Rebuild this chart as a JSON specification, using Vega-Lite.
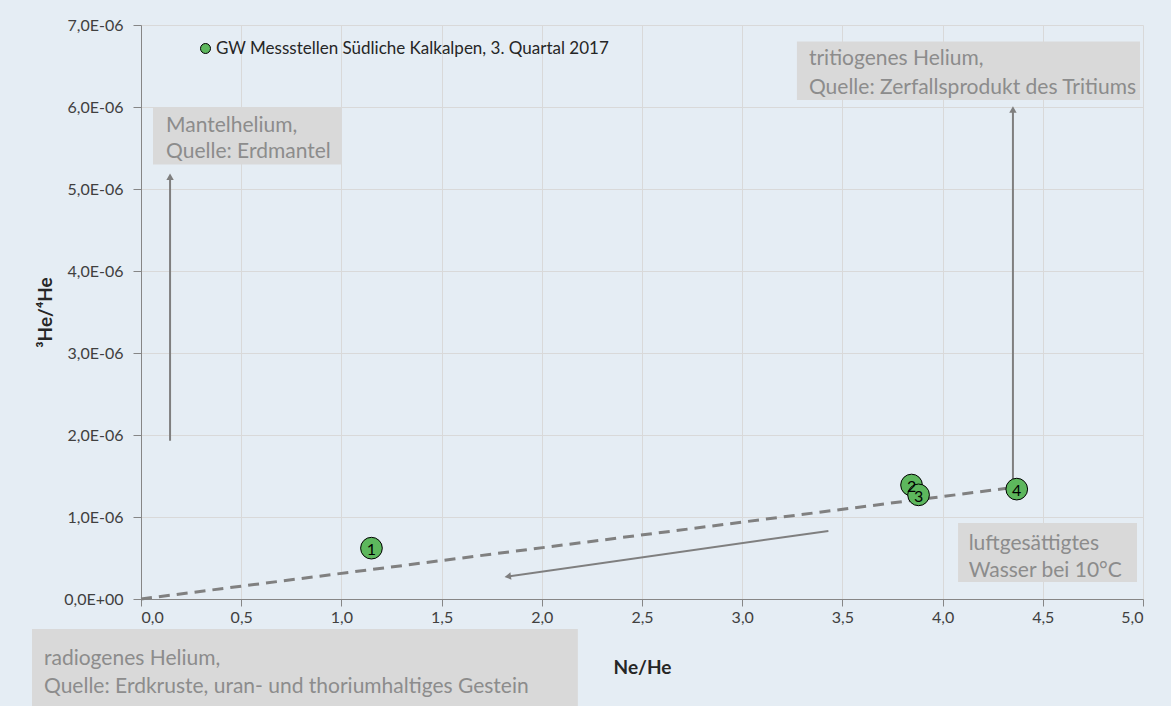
{
  "$schema": "https://vega.github.io/schema/vega-lite/v6.json",
  "autosize": "none",
  "width": 1002,
  "height": 574,
  "padding": {"left": 141, "top": 25, "right": 28, "bottom": 107},
  "background": "#e5edf4",
  "config": {
    "view": {"stroke": null},
    "font": "Lato",
    "axis": {"labelFont": "Lato", "titleFont": "Lato"},
    "legend": {"labelFont": "Lato"}
  },
  "datasets": {
    "proben": [
      {"x": 1.15, "y": 6.2e-7, "nr": "1", "serie": "GW Messstellen Südliche Kalkalpen, 3. Quartal 2017"},
      {"x": 3.845, "y": 1.39e-6, "nr": "2", "serie": "GW Messstellen Südliche Kalkalpen, 3. Quartal 2017"},
      {"x": 3.88, "y": 1.27e-6, "nr": "3", "serie": "GW Messstellen Südliche Kalkalpen, 3. Quartal 2017"},
      {"x": 4.37, "y": 1.34e-6, "nr": "4", "serie": "GW Messstellen Südliche Kalkalpen, 3. Quartal 2017"}
    ],
    "mischlinie": [
      {"x": 0.0, "y": 0.0},
      {"x": 4.32, "y": 1.35e-6}
    ],
    "pfeile": [
      {"pfeil": "Mantel", "x": 0.145, "y": 1.93e-6, "x2": 0.145, "y2": 5.15e-6},
      {"pfeil": "Tritium", "x": 4.351, "y": 1.34e-6, "x2": 4.351, "y2": 5.97e-6},
      {"pfeil": "Radiogen", "x": 3.43, "y": 8.3e-7, "x2": 1.83, "y2": 2.75e-7}
    ],
    "spitzen_vertikal": [
      {"x": 0.145, "y": 5.15e-6},
      {"x": 4.351, "y": 5.97e-6}
    ],
    "spitzen_schraeg": [
      {"x": 1.83, "y": 2.75e-7}
    ],
    "kaesten": [
      {"name": "Mantelhelium", "x": 0.06, "x2": 1.003, "y": 6.0e-6, "y2": 5.3e-6},
      {"name": "tritiogen", "x": 3.273, "x2": 4.985, "y": 6.8e-6, "y2": 6.085e-6},
      {"name": "luftgesättigt", "x": 4.077, "x2": 4.97, "y": 9.27e-7, "y2": 2.07e-7},
      {"name": "radiogen", "x": -0.544, "x2": 2.18, "y": -3.66e-7, "y2": -1.4e-6}
    ],
    "kastentexte": [
      {"x": 0.125, "y": 5.77e-6, "text": "Mantelhelium,"},
      {"x": 0.125, "y": 5.45e-6, "text": "Quelle: Erdmantel"},
      {"x": 3.333, "y": 6.58e-6, "text": "tritiogenes Helium,"},
      {"x": 3.333, "y": 6.23e-6, "text": "Quelle: Zerfallsprodukt des Tritiums"},
      {"x": 4.13, "y": 6.7e-7, "text": "luftgesättigtes"},
      {"x": 4.13, "y": 3.4e-7, "text": "Wasser bei 10°C"},
      {"x": -0.484, "y": -7.3e-7, "text": "radiogenes Helium,"},
      {"x": -0.484, "y": -1.07e-6, "text": "Quelle: Erdkruste, uran- und thoriumhaltiges Gestein"}
    ]
  },
  "encoding": {
    "x": {
      "field": "x",
      "type": "quantitative",
      "scale": {"domain": [0, 5], "nice": false, "zero": false},
      "axis": {
        "title": "Ne/He",
        "values": [0, 0.5, 1, 1.5, 2, 2.5, 3, 3.5, 4, 4.5, 5],
        "labelExpr": "replace(format(datum.value, '.1f'), '.', ',')",
        "grid": true,
        "gridColor": "#d9d9d9",
        "domainColor": "#868686",
        "tickColor": "#868686",
        "tickSize": 7,
        "labelPadding": 3,
        "labelFontSize": 16,
        "labelColor": "#404040",
        "titleFontSize": 19,
        "titleFontWeight": "bold",
        "titleColor": "#262626",
        "titlePadding": 33
      }
    },
    "y": {
      "field": "y",
      "type": "quantitative",
      "scale": {"domain": [0, 7e-6], "nice": false, "zero": false},
      "axis": {
        "title": "³He/⁴He",
        "values": [0, 1e-6, 2e-6, 3e-6, 4e-6, 5e-6, 6e-6, 7e-6],
        "labelExpr": "datum.value == 0 ? '0,0E+00' : replace(format(datum.value * 1e6, '.1f'), '.', ',') + 'E-06'",
        "grid": true,
        "gridColor": "#d9d9d9",
        "domainColor": "#868686",
        "tickColor": "#868686",
        "tickSize": 8,
        "labelPadding": 10,
        "labelFontSize": 16,
        "labelColor": "#404040",
        "titleFontSize": 19,
        "titleFontWeight": "bold",
        "titleColor": "#262626",
        "titlePadding": 8
      }
    }
  },
  "layer": [
    {
      "data": {"name": "kaesten"},
      "mark": {"type": "rect", "color": "#d9d9d9", "clip": false},
      "encoding": {"x2": {"field": "x2"}, "y2": {"field": "y2"}}
    },
    {
      "data": {"name": "kastentexte"},
      "mark": {"type": "text", "align": "left", "baseline": "middle", "fontSize": 21, "color": "#8c8c8c", "font": "Lato"},
      "encoding": {"text": {"field": "text"}}
    },
    {
      "data": {"name": "mischlinie"},
      "mark": {"type": "line", "color": "#808080", "strokeWidth": 3, "strokeDash": [11, 7]},
      "encoding": {}
    },
    {
      "data": {"name": "pfeile"},
      "mark": {"type": "rule", "color": "#7f7f7f", "strokeWidth": 2},
      "encoding": {"x2": {"field": "x2"}, "y2": {"field": "y2"}}
    },
    {
      "data": {"name": "spitzen_vertikal"},
      "mark": {"type": "point", "shape": "triangle-up", "filled": true, "color": "#7f7f7f", "opacity": 1, "size": 55},
      "encoding": {}
    },
    {
      "data": {"name": "spitzen_schraeg"},
      "mark": {"type": "point", "shape": "triangle-up", "filled": true, "color": "#7f7f7f", "opacity": 1, "size": 55, "angle": 262},
      "encoding": {}
    },
    {
      "data": {"name": "proben"},
      "mark": {"type": "point", "filled": true, "shape": "circle", "size": 470, "opacity": 1, "stroke": "#000000", "strokeWidth": 1},
      "encoding": {
        "color": {
          "field": "serie",
          "type": "nominal",
          "scale": {"range": ["#5db75d"]},
          "legend": {
            "title": null,
            "orient": "none",
            "legendX": 56,
            "legendY": 15,
            "padding": 0,
            "symbolSize": 100,
            "symbolStrokeColor": "#000000",
            "symbolStrokeWidth": 1,
            "symbolType": "circle",
            "labelFontSize": 17,
            "labelColor": "#262626",
            "labelOffset": 2,
            "labelLimit": 700
          }
        }
      }
    },
    {
      "data": {"name": "proben"},
      "mark": {"type": "text", "fontSize": 16, "color": "#000000", "dy": 2},
      "encoding": {"text": {"field": "nr"}}
    }
  ]
}
